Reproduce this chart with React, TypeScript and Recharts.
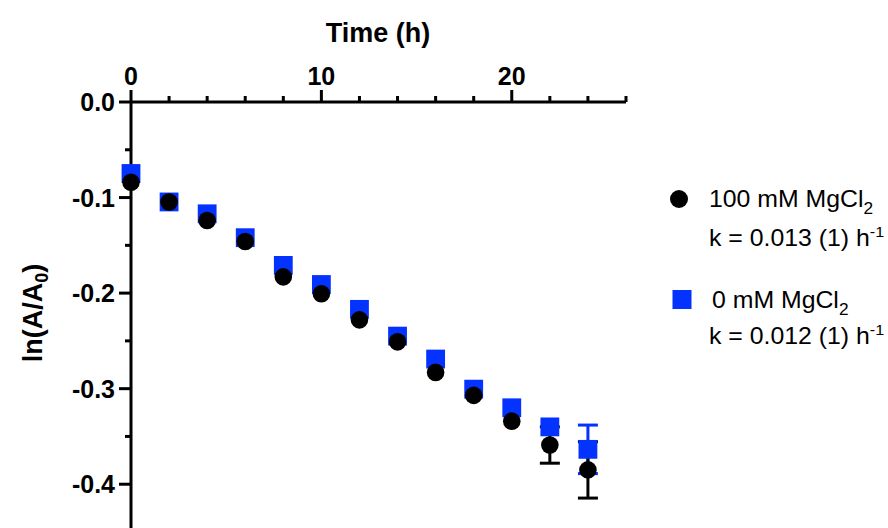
import React from 'react';
import { ScatterChart, Scatter, XAxis, YAxis, ErrorBar } from 'recharts';

const timeHours = [0, 2, 4, 6, 8, 10, 12, 14, 16, 18, 20, 22, 24];
const mg100Values = [-0.084, -0.1046, -0.124, -0.146, -0.183, -0.2007, -0.228, -0.251, -0.283, -0.307, -0.334, -0.359, -0.385];
const mg100Errors = [null, null, null, null, null, null, null, null, null, null, null, 0.019, 0.0295];
const mg0Values = [-0.0748, -0.1046, -0.117, -0.142, -0.171, -0.191, -0.217, -0.245, -0.269, -0.3005, -0.32, -0.34, -0.3635];
const mg0Errors = [null, null, null, null, null, null, null, null, null, null, null, null, 0.0254];

const xTicks = [0, 2, 4, 6, 8, 10, 12, 14, 16, 18, 20, 22, 24, 26];
const yTicks = [0, -0.05, -0.1, -0.15, -0.2, -0.25, -0.3, -0.35, -0.4, -0.45];

const BLUE = '#0433ff';
const FONT = "'Liberation Sans', Arial, Helvetica, sans-serif";

const mg100Data = timeHours.map((t, i) => ({ t, v: mg100Values[i], err: mg100Errors[i] }));
const mg0Data = timeHours.map((t, i) => ({ t, v: mg0Values[i], err: mg0Errors[i] }));

const XTick = (props: any) => {
  const { x, y, payload } = props;
  const v = payload.value;
  const major = Math.round(v) % 10 === 0;
  return (
    <g>
      <line x1={x} x2={x} y1={y} y2={y - (major ? 12 : 6)} stroke="#000" strokeWidth={3} />
      {major && (
        <text x={x} y={y - 17} textAnchor="middle" fontFamily={FONT} fontWeight="bold" fontSize={25} fill="#000">
          {v}
        </text>
      )}
    </g>
  );
};

const YTick = (props: any) => {
  const { x, y, payload } = props;
  const v = payload.value;
  const major = Math.round(v * 100) % 10 === 0;
  return (
    <g>
      <line x1={x} x2={x - (major ? 12 : 6)} y1={y} y2={y} stroke="#000" strokeWidth={3} />
      {major && (
        <text x={x - 16} y={y} dy={9} textAnchor="end" fontFamily={FONT} fontWeight="bold" fontSize={25} fill="#000">
          {v.toFixed(1)}
        </text>
      )}
    </g>
  );
};

const CircleShape = (p: any) => <circle cx={p.cx} cy={p.cy} r={8.8} fill="#000" />;
const SquareShape = (p: any) => (
  <rect x={p.cx - 9.4} y={p.cy - 9.4} width={18.8} height={18.8} fill={BLUE} />
);

const LegendText = ({ x, y, main, sub, sup }: { x: number; y: number; main: string; sub?: string; sup?: string }) => (
  <text transform={`translate(${x} ${y}) scale(1.08 1)`} x={0} y={0} fontFamily={FONT} fontSize={23} fill="#000">
    {main}
    {sub && <tspan fontSize={16} dy={7}>{sub}</tspan>}
    {sup && <tspan fontSize={15} dy={-9}>{sup}</tspan>}
  </text>
);

export default function App() {
  return (
    <div style={{ position: 'absolute', left: 0, top: 0, width: 888, height: 528, overflow: 'hidden', background: '#fff' }}>
      <ScatterChart width={888} height={540} margin={{ top: 62, left: 71, right: 262, bottom: 8 }}>
        <XAxis
          dataKey="t"
          type="number"
          orientation="top"
          domain={[0, 26]}
          ticks={xTicks}
          interval={0}
          height={40}
          tickSize={0}
          tickMargin={0}
          tickLine={false}
          axisLine={{ stroke: '#000', strokeWidth: 3 }}
          tick={<XTick />}
        />
        <YAxis
          dataKey="v"
          type="number"
          domain={[-0.45, 0]}
          ticks={yTicks}
          interval={0}
          width={60}
          tickSize={0}
          tickMargin={0}
          tickLine={false}
          axisLine={{ stroke: '#000', strokeWidth: 3 }}
          tick={<YTick />}
        />
        <Scatter data={mg0Data} shape={SquareShape} isAnimationActive={false}>
          <ErrorBar dataKey="err" direction="y" width={10} strokeWidth={3} stroke={BLUE} />
        </Scatter>
        <Scatter data={mg100Data} shape={CircleShape} isAnimationActive={false}>
          <ErrorBar dataKey="err" direction="y" width={10} strokeWidth={3} stroke="#000" />
        </Scatter>
      </ScatterChart>
      <svg width={888} height={528} style={{ position: 'absolute', left: 0, top: 0, pointerEvents: 'none' }}>
        <text x={378} y={42} textAnchor="middle" fontFamily={FONT} fontWeight="bold" fontSize={27} fill="#000">
          Time (h)
        </text>
        <text
          transform="translate(42 313) rotate(-90)"
          x={0}
          y={0}
          textAnchor="middle"
          fontFamily={FONT}
          fontWeight="bold"
          fontSize={27}
          fill="#000"
        >
          ln(A/A<tspan fontSize={18} dy={6}>0</tspan><tspan dy={-6}>)</tspan>
        </text>
        <circle cx={679} cy={199} r={9} fill="#000" />
        <LegendText x={709} y={207} main="100 mM MgCl" sub="2" />
        <LegendText x={709} y={246} main="k = 0.013 (1) h" sup="-1" />
        <rect x={672.5} y={290} width={19} height={19} fill={BLUE} />
        <LegendText x={712} y={308} main="0 mM MgCl" sub="2" />
        <LegendText x={709} y={344} main="k = 0.012 (1) h" sup="-1" />
      </svg>
    </div>
  );
}
